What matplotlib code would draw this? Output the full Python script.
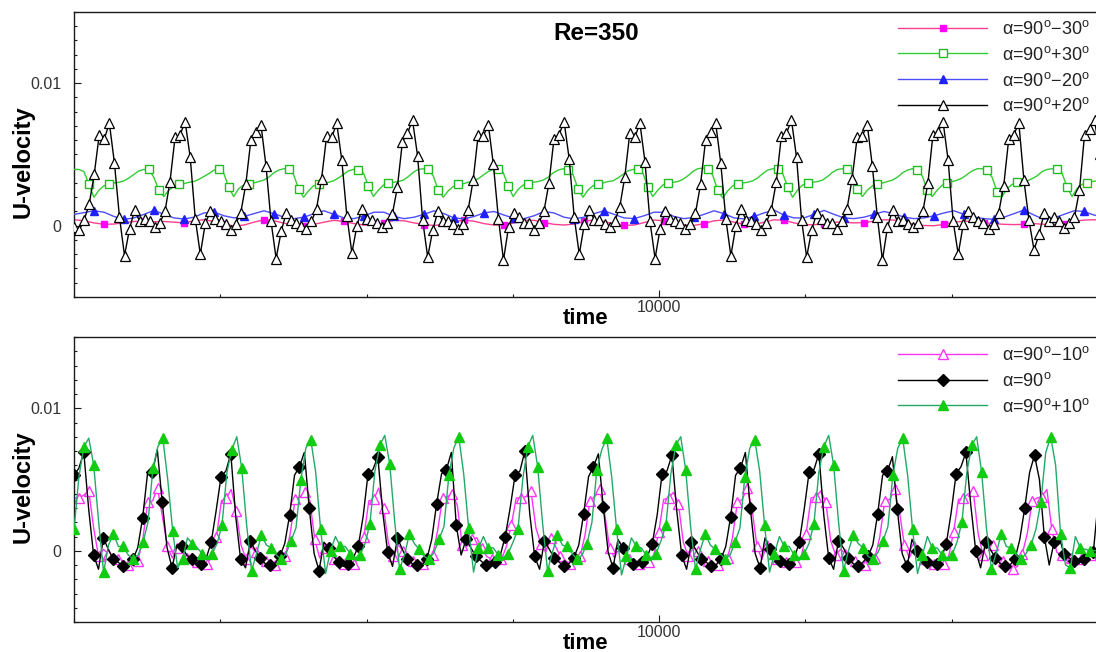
import numpy as np
import matplotlib
matplotlib.use("Agg")
import matplotlib.pyplot as plt
from matplotlib.ticker import FixedLocator, MultipleLocator, FixedFormatter

plt.rcParams['font.family'] = ['Liberation Sans', 'DejaVu Sans']
plt.rcParams['mathtext.fontset'] = 'custom'
plt.rcParams['mathtext.rm'] = 'Liberation Sans'
plt.rcParams['mathtext.it'] = 'Liberation Sans:italic'
plt.rcParams['mathtext.bf'] = 'Liberation Sans:bold'

# ---------------- data (velocity values in units of 1e-3) ----------------
U_SCALE = 1e-3
T_START = 6000.0
X_RANGE = (6000, 13000)
Y_RANGE = (-0.005, 0.015)

# sampling step (time units) of each recorded series
DT_TOP_P20 = 34.54
DT_TOP_P30 = 34.11
DT_TOP_SMOOTH = 68.36
DT_BOT_90 = 33.50
DT_BOT_P10 = 33.72
DT_BOT_M10 = 33.59

# top panel: alpha = 90+20 (one row per shedding cycle)
u_top_p20 = [
    [-0.1, -0.3, 0.4, 1.5, 3.6, 6.4, 6.1, 7.2, 4.4, 0.6, -2.1, -0.2, 1.1, 0.3, 0.5],
    [0.3, -0.1, 0.2, 1.0, 3.1, 6.2, 6.4, 7.3, 4.8, 0.5, -2.0, 0.2, 1.0, 0.5, 0.3],
    [0.1, -0.3, 0.1, 0.9, 2.9, 6.0, 6.6, 7.1, 4.2, 0.3, -2.3, -0.4, 0.9, 0.4, 0.2],
    [0.0, -0.2, 0.3, 1.2, 3.3, 6.3, 6.2, 7.2, 4.6, 0.7, -1.9, 0.0, 1.2, 0.5, 0.4],
    [0.2, -0.1, 0.2, 0.8, 2.7, 5.9, 6.5, 7.4, 4.9, 0.4, -2.2, -0.3, 1.0, 0.3, 0.3],
    [0.1, -0.2, 0.1, 1.1, 3.2, 6.4, 6.3, 7.1, 4.3, 0.5, -2.4, -0.1, 0.9, 0.6, 0.2],
    [0.2, -0.3, 0.2, 1.0, 3.0, 6.1, 6.4, 7.3, 4.7, 0.6, -2.0, 0.1, 1.1, 0.4, 0.4],
    [0.1, -0.1, 0.3, 1.3, 3.4, 6.5, 6.2, 7.2, 4.5, 0.3, -2.3, -0.2, 1.0, 0.5, 0.3],
    [0.2, -0.2, 0.1, 0.9, 2.9, 6.0, 6.6, 7.2, 4.4, 0.5, -2.1, 0.0, 1.2, 0.4, 0.3],
    [0.1, -0.3, 0.2, 1.1, 3.1, 6.3, 6.5, 7.4, 4.8, 0.4, -2.2, -0.3, 0.9, 0.5, 0.2],
    [0.2, -0.2, 0.3, 1.2, 3.3, 6.2, 6.3, 7.1, 4.2, 0.6, -2.4, -0.1, 1.1, 0.3, 0.4],
    [0.1, -0.1, 0.2, 1.0, 3.0, 6.4, 6.6, 7.3, 4.6, 0.3, -2.0, 0.1, 1.0, 0.6, 0.3],
    [0.2, -0.2, 0.1, 0.9, 2.8, 6.1, 6.4, 7.2, 3.2, 0.4, -1.7, -0.6, 0.9, 0.3, 0.6],
    [0.3, -0.15, 0.2, 0.6, 2.5, 6.4, 6.8, 7.4, 5.0, 0.8, -1.5, 0.2, 1.0, 0.4, 0.3],
]

# top panel: alpha = 90+30
u_top_p30 = [
    [3.95, 3.95, 3.8, 2.9, 2.0, 2.5, 2.8, 2.95, 3.0, 3.05, 3.15, 3.35, 3.6, 3.85],
    [3.95, 3.95, 3.4, 2.5, 2.05, 2.5, 2.75, 2.9, 2.95, 3.05, 3.1, 3.25, 3.45, 3.65],
    [3.9, 3.95, 3.7, 2.7, 2.05, 2.6, 2.85, 2.95, 3.0, 3.1, 3.2, 3.4, 3.7, 3.9],
    [4.0, 3.95, 3.6, 2.6, 2.0, 2.45, 2.8, 2.9, 3.0, 3.05, 3.15, 3.35, 3.6, 3.85],
    [3.95, 3.9, 3.7, 2.8, 2.05, 2.5, 2.85, 3.0, 3.05, 3.1, 3.2, 3.45, 3.75, 3.95],
    [4.0, 3.95, 3.5, 2.5, 2.0, 2.45, 2.75, 2.9, 2.95, 3.05, 3.15, 3.3, 3.55, 3.8],
    [3.95, 3.95, 3.75, 2.8, 2.05, 2.55, 2.85, 2.95, 3.05, 3.1, 3.2, 3.4, 3.7, 3.9],
    [4.0, 3.9, 3.6, 2.6, 2.0, 2.5, 2.8, 2.95, 3.0, 3.1, 3.15, 3.35, 3.6, 3.85],
    [3.95, 3.95, 3.7, 2.7, 2.05, 2.5, 2.85, 3.0, 3.05, 3.1, 3.25, 3.5, 3.8, 4.0],
    [4.05, 3.95, 3.55, 2.5, 1.95, 2.45, 2.8, 2.95, 3.0, 3.05, 3.15, 3.35, 3.65, 3.9],
    [4.0, 3.95, 3.7, 2.75, 2.0, 2.5, 2.85, 3.0, 3.05, 3.1, 3.2, 3.45, 3.75, 3.95],
    [4.0, 3.95, 3.6, 2.6, 2.05, 2.5, 2.8, 2.95, 3.0, 3.1, 3.2, 3.4, 3.7, 3.9],
    [4.0, 3.9, 3.5, 2.5, 2.05, 2.5, 2.85, 3.0, 3.1, 3.2, 3.35, 3.6, 3.85, 4.0],
    [4.0, 3.9, 3.4, 2.4, 2.05, 2.6, 2.9, 3.05, 3.1, 3.15, 3.3, 3.5, 3.8, 3.95],
    [4.0, 3.95, 3.7, 2.75, 2.05, 2.6, 2.9, 3.0, 3.1, 3.15, 3.2, 3.3, 3.5, 3.7],
]

# top panel: alpha = 90-20
u_top_m20 = [
    0.80, 0.92, 1.05, 0.95, 0.65, 0.45, 0.55, 0.80, 1.08, 0.80,
    0.55, 0.47, 0.60, 0.90, 0.95, 0.70, 0.55, 0.65, 0.85, 1.05,
    0.85, 0.60, 0.50, 0.60, 0.85, 1.05, 0.80, 0.55, 0.50, 0.70,
    0.95, 0.95, 0.65, 0.50, 0.60, 0.80, 1.05, 0.85, 0.55, 0.48,
    0.65, 0.90, 1.00, 0.75, 0.52, 0.50, 0.70, 1.00, 0.90, 0.60,
    0.48, 0.60, 0.85, 1.05, 0.80, 0.55, 0.50, 0.70, 0.95, 0.95,
    0.65, 0.50, 0.58, 0.80, 1.05, 0.85, 0.55, 0.48, 0.65, 0.90,
    1.10, 0.75, 0.55, 0.55, 0.80, 1.08, 0.80, 0.55, 0.50, 0.60,
    0.80, 1.00, 0.85, 0.60, 0.50, 0.55, 0.70, 0.90, 1.05, 0.80,
    0.60, 0.50, 0.45, 0.60, 0.85, 1.10, 0.75, 0.45, 0.55, 0.80,
    1.05, 1.00, 0.75, 0.60,
]

# top panel: alpha = 90-30
u_top_m30 = [
    0.42, 0.35, 0.20, 0.10, 0.12, 0.22, 0.30, 0.30, 0.28, 0.30,
    0.25, 0.20, 0.35, 0.42, 0.30, 0.12, -0.02, 0.05, 0.25, 0.42,
    0.35, 0.18, 0.05, 0.00, 0.10, 0.25, 0.38, 0.30, 0.15, 0.05,
    0.05, 0.20, 0.38, 0.35, 0.20, 0.08, 0.02, 0.10, 0.28, 0.40,
    0.32, 0.15, 0.05, 0.05, 0.20, 0.38, 0.38, 0.22, 0.10, 0.05,
    0.12, 0.30, 0.42, 0.30, 0.12, 0.02, 0.05, 0.22, 0.40, 0.35,
    0.18, 0.05, 0.02, 0.15, 0.35, 0.40, 0.25, 0.10, 0.07, 0.25,
    0.42, 0.38, 0.20, 0.08, 0.07, 0.15, 0.25, 0.25, 0.20, 0.22,
    0.32, 0.42, 0.40, 0.25, 0.10, 0.02, 0.00, 0.10, 0.25, 0.32,
    0.30, 0.22, 0.15, 0.10, 0.08, 0.10, 0.15, 0.10, 0.07, 0.15,
    0.30, 0.40, 0.42, 0.38,
]

# bottom panel: alpha = 90
u_bot_90 = [
    [5.3, 5.8, 6.9, 2.9, -0.3, -1.3, 0.9, 0.1, -0.6, -0.8, -1.1, -1.0, -0.6, 0.2, 2.3],
    [5.4, 5.5, 7.1, 3.4, 0.2, -1.2, 0.4, 0.3, -0.3, -0.6, -0.9, -0.9, -0.5, 0.6, 2.8],
    [5.2, 5.6, 6.8, 2.4, -0.6, -1.2, 0.7, 0.0, -0.5, -0.9, -1.0, -0.9, -0.4, 0.5, 2.5],
    [5.3, 5.9, 6.9, 3.0, -0.2, -1.4, 0.6, 0.2, -0.4, -0.8, -1.1, -0.9, -0.5, 0.3, 2.4],
    [5.4, 5.7, 6.6, 2.7, -0.1, -1.1, 0.9, 0.1, -0.6, -0.9, -1.0, -1.0, -0.6, 0.8, 3.3],
    [5.4, 5.7, 6.9, 1.8, -0.3, 0.8, 0.2, -0.4, -0.7, -1.0, -1.1, -0.8, -0.3, 1.0, 3.0],
    [5.3, 5.6, 7.0, 2.6, -0.4, -1.3, 0.7, 0.1, -0.5, -0.8, -1.1, -0.9, -0.5, 0.4, 2.6],
    [5.2, 5.9, 6.8, 3.1, -0.1, -1.2, 0.8, 0.2, -0.5, -0.9, -1.0, -0.8, -0.4, 0.5, 2.5],
    [5.4, 5.6, 6.7, 2.8, -0.3, -1.3, 0.6, 0.0, -0.6, -0.8, -1.1, -1.0, -0.6, 0.3, 2.4],
    [5.3, 5.8, 6.9, 3.0, -0.2, -1.2, 0.9, 0.1, -0.4, -0.7, -1.0, -0.9, -0.5, 0.6, 2.9],
    [5.5, 5.7, 6.8, 2.5, -0.5, -1.3, 0.7, 0.2, -0.5, -0.9, -1.1, -0.8, -0.4, 0.4, 2.6],
    [5.3, 5.6, 6.6, 2.9, -0.2, -1.1, 0.8, 0.0, -0.6, -0.8, -1.0, -0.9, -0.5, 0.5, 2.7],
    [5.4, 5.9, 6.9, 3.2, 0.0, -1.2, 0.6, 0.1, -0.5, -0.9, -1.1, -1.0, -0.6, 0.8, 3.0],
    [5.5, 6.7, 5.0, 1.0, -1.0, 0.6, 1.0, -0.2, -0.5, -0.7, -0.9, -0.6, -0.3, -0.1, 3.5],
]

# bottom panel: alpha = 90+10
u_bot_p10 = [
    [1.5, 5.2, 7.3, 7.9, 6.0, 2.0, -1.5, 0.4, 1.2, 0.3, 0.3, -0.3, -0.6, -0.3, 0.6],
    [2.0, 5.8, 7.3, 7.9, 5.0, 1.4, -1.2, -0.6, 0.9, 0.5, 0.2, -0.2, -0.5, -0.2, 0.5],
    [1.8, 5.5, 7.1, 8.0, 5.8, 1.8, -1.4, -0.2, 1.1, 0.4, 0.2, -0.3, -0.6, -0.2, 0.7],
    [1.6, 5.0, 7.2, 7.8, 5.5, 1.5, -1.6, 0.0, 1.0, 0.3, 0.3, -0.2, -0.5, -0.3, 0.5],
    [1.9, 5.6, 7.4, 8.1, 6.1, 2.1, -1.3, -0.3, 1.2, 0.5, 0.1, -0.4, -0.6, -0.1, 0.8],
    [1.7, 5.3, 7.2, 8.0, 5.4, 1.6, -1.5, 0.2, 1.0, 0.2, 0.2, -0.3, -0.5, -0.2, 0.6],
    [1.5, 5.1, 7.3, 8.1, 5.9, 1.9, -1.4, -0.1, 1.1, 0.4, 0.3, -0.2, -0.6, -0.3, 0.5],
    [2.0, 5.7, 7.1, 7.9, 5.2, 1.5, -1.7, -0.4, 0.9, 0.3, 0.2, -0.3, -0.5, -0.2, 0.7],
    [1.8, 5.4, 7.4, 8.0, 5.7, 1.7, -1.3, 0.1, 1.2, 0.4, 0.1, -0.2, -0.6, -0.3, 0.6],
    [1.6, 5.2, 7.2, 7.8, 5.6, 1.8, -1.5, -0.2, 1.0, 0.3, 0.3, -0.3, -0.5, -0.2, 0.5],
    [1.9, 5.5, 7.3, 8.1, 6.0, 2.0, -1.4, 0.0, 1.1, 0.5, 0.2, -0.4, -0.6, -0.1, 0.7],
    [1.7, 5.3, 7.2, 7.9, 5.3, 1.5, -1.6, -0.3, 1.0, 0.2, 0.2, -0.3, -0.5, -0.3, 0.6],
    [2.0, 5.5, 7.4, 8.0, 5.5, 1.5, -1.3, -0.1, 1.2, 0.3, 0.2, -0.3, -0.6, -0.2, 0.4],
    [1.5, 3.4, 6.9, 8.0, 6.0, 1.2, -1.0, -1.2, 1.0, 0.2, 0.1, 0.0, 0.0, 0.1, 0.3],
]

# bottom panel: alpha = 90-10
u_bot_m10 = [
    [3.7, 3.7, 3.9, 4.2, 1.6, -0.4, 0.1, -0.2, -0.6, -0.6, -0.7, -1.0, -1.0, -0.7, 0.8],
    [3.4, 3.5, 4.4, 2.4, 0.3, -0.5, 0.2, 0.0, -0.5, -0.7, -0.8, -1.0, -0.9, -0.5, 1.0],
    [3.5, 3.7, 4.3, 2.8, 0.4, -0.6, 0.3, -0.1, -0.6, -0.7, -0.9, -1.0, -0.8, -0.4, 1.2],
    [3.6, 3.8, 4.1, 3.5, 0.8, -0.5, 0.2, -0.2, -0.6, -0.8, -0.9, -1.0, -0.9, -0.5, 1.0],
    [3.5, 3.6, 4.4, 3.0, 0.5, -0.4, 0.4, 0.0, -0.5, -0.7, -0.8, -0.9, -0.8, -0.3, 1.4],
    [3.7, 3.8, 4.0, 3.2, 0.4, 0.3, 0.8, 0.9, 0.2, -0.4, -0.6, -0.6, -0.6, 0.3, 1.8],
    [3.7, 3.7, 3.8, 4.2, 1.6, 0.5, -0.1, 0.9, 0.3, -0.4, -0.7, -0.9, -0.8, -0.4, 1.1],
    [3.5, 3.8, 4.3, 2.6, 0.2, -0.5, 0.3, -0.1, -0.6, -0.8, -0.9, -1.0, -0.8, -0.3, 1.3],
    [3.6, 3.7, 4.1, 3.3, 0.6, -0.4, 0.2, 0.0, -0.5, -0.7, -0.9, -1.0, -0.9, -0.5, 0.9],
    [3.4, 3.6, 4.4, 2.9, 0.3, -0.6, 0.4, -0.1, -0.6, -0.8, -0.8, -0.9, -0.8, -0.4, 1.2],
    [3.7, 3.8, 4.2, 3.4, 0.7, -0.3, 0.1, -0.2, -0.5, -0.7, -0.9, -1.0, -0.9, -0.5, 1.0],
    [3.5, 3.6, 4.3, 2.7, 0.4, -0.5, 0.3, 0.0, -0.6, -0.8, -0.9, -1.1, -0.9, -0.4, 1.3],
    [3.6, 3.7, 4.0, 4.2, 1.2, -0.3, 0.9, 0.4, -0.3, -0.7, -1.1, -1.3, -1.1, -0.2, 1.2],
    [3.5, 3.7, 3.8, 4.3, 1.5, -0.1, -0.3, -0.4, -0.5, -0.6, -0.6, -0.5, -0.3, -0.15, 0.5],
]

LABELS_TOP = ['α=90$^{\\mathrm{o}}$−30$^{\\mathrm{o}}$', 'α=90$^{\\mathrm{o}}$+30$^{\\mathrm{o}}$',
              'α=90$^{\\mathrm{o}}$−20$^{\\mathrm{o}}$', 'α=90$^{\\mathrm{o}}$+20$^{\\mathrm{o}}$']
LABELS_BOT = ['α=90$^{\\mathrm{o}}$−10$^{\\mathrm{o}}$', 'α=90$^{\\mathrm{o}}$',
              'α=90$^{\\mathrm{o}}$+10$^{\\mathrm{o}}$']
TITLE = 'Re=350'
X_TICKS = [10000]
X_TICK_LABELS = ['10000']
Y_TICKS = [0, 0.01]
Y_TICK_LABELS = ['0', '0.01']


def series(rows, dt):
    if isinstance(rows[0], list):
        v = np.concatenate([np.asarray(r, dtype=float) for r in rows])
    else:
        v = np.asarray(rows, dtype=float)
    v = v * U_SCALE
    t = T_START + dt * np.arange(len(v))
    return t, v


W, H = 1096, 652
fig = plt.figure(figsize=(W / 100, H / 100), dpi=100)
ax1 = fig.add_axes([74 / W, 1 - 297 / H, 1024 / W, 285 / H])
ax2 = fig.add_axes([74 / W, 1 - 622 / H, 1024 / W, 285 / H])

INK = '#1a1a1a'


def style(ax):
    ax.set_xlim(*X_RANGE)
    ax.set_ylim(*Y_RANGE)
    ax.spines['right'].set_visible(False)
    for s in ('left', 'top', 'bottom'):
        ax.spines[s].set_linewidth(1.0)
        ax.spines[s].set_color(INK)
    ax.xaxis.set_major_locator(FixedLocator(X_TICKS))
    ax.xaxis.set_major_formatter(FixedFormatter(X_TICK_LABELS))
    ax.xaxis.set_minor_locator(MultipleLocator(1000))
    ax.yaxis.set_major_locator(FixedLocator(Y_TICKS))
    ax.yaxis.set_major_formatter(FixedFormatter(Y_TICK_LABELS))
    ax.yaxis.set_minor_locator(MultipleLocator(0.001))
    ax.tick_params(which='both', direction='in', top=False, right=False, color=INK)
    ax.tick_params(which='major', length=5, width=0.8, labelsize=11.5, labelcolor='#333333')
    ax.tick_params(which='minor', length=2.5, width=0.8)
    ax.tick_params(axis='y', which='major', pad=9)
    ax.tick_params(axis='x', which='major', pad=2)
    ax.set_xlabel('time', fontsize=16, fontweight='bold', va='center')
    ax.xaxis.set_label_coords(0.5, -0.075)
    ax.set_ylabel('U-velocity', fontsize=17, fontweight='bold', va='center', ha='center')
    ax.yaxis.set_label_coords(-0.0498, 0.474)


for ax in (ax1, ax2):
    style(ax)

# ---- top panel ----
t, v = series(u_top_m30, DT_TOP_SMOOTH)
ax1.plot(t, v, color='#FF4090', lw=1.0, marker='s', ms=5, mfc='#FF00FF', mec='#FF00FF',
         markevery=(3, 4), label=LABELS_TOP[0], zorder=2)

t, v = series(u_top_p30, DT_TOP_P30)
n_cyc = len(u_top_p30)
green_marks = [14 * k + j for k in range(n_cyc) for j in (1, 3, 7) if not (k == 0 and j == 1)]
ax1.plot(t, v, color='#33CC33', lw=1.0, marker='s', ms=6, mfc='white', mec='#22BB22',
         mew=1.0, markevery=green_marks, label=LABELS_TOP[1], zorder=3)

t, v = series(u_top_m20, DT_TOP_SMOOTH)
ax1.plot(t, v, color='#4D4DFF', lw=1.0, marker='^', ms=5.5, mfc='#2020FF', mec='#2020FF',
         markevery=(2, 3), label=LABELS_TOP[2], zorder=4)

t, v = series(u_top_p20, DT_TOP_P20)
ax1.plot(t, v, color='black', lw=1.0, marker='^', ms=7, mfc='white', mec='black',
         mew=0.9, markevery=1, label=LABELS_TOP[3], zorder=5)

ax1.text(0.5098, 0.926, TITLE, transform=ax1.transAxes, ha='center', va='center',
         fontsize=17.5, fontweight='bold')

# ---- bottom panel ----
t, v = series(u_bot_m10, DT_BOT_M10)
ax2.plot(t, v, color='#FF33FF', lw=1.0, marker='^', ms=7, mfc='white', mec='#FF33FF',
         mew=1.0, markevery=(1, 2), label=LABELS_BOT[0], zorder=2)

t, v = series(u_bot_90, DT_BOT_90)
ax2.plot(t, v, color='black', lw=1.0, marker='D', ms=6, mfc='black', mec='black',
         markevery=2, label=LABELS_BOT[1], zorder=3)

t, v = series(u_bot_p10, DT_BOT_P10)
ax2.plot(t, v, color='#22AA66', lw=1.0, marker='^', ms=7, mfc='#11CC11', mec='#11CC11',
         markevery=(0, 2), label=LABELS_BOT[2], zorder=4)

for ax, ytop in ((ax1, 0.972), (ax2, 0.968)):
    leg = ax.legend(loc='upper left', bbox_to_anchor=(0.8047, ytop), frameon=False,
                    fontsize=13, handlelength=4.93, handletextpad=0.81, labelspacing=0.43,
                    numpoints=1, borderaxespad=0, borderpad=0)
    for txt in leg.get_texts():
        txt.set_color('#222222')

fig.savefig('out.png', dpi=100)
